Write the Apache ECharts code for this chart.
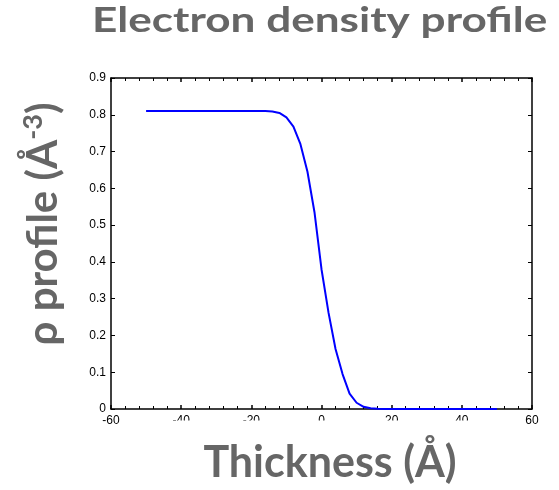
<!DOCTYPE html>
<html>
<head>
<meta charset="utf-8">
<script src="https://cdn.jsdelivr.net/npm/echarts@6/dist/echarts.min.js"></script>
<style>
  html, body { margin: 0; padding: 0; background: #fff; }
  #chart { width: 559px; height: 490px; }
</style>
</head>
<body>
<div id="chart"></div>
<script>
// Electron density profile across the interface (thickness in Å, density in Å^-3)
const thickness = [
  -50, -48, -46, -44, -42, -40, -38, -36, -34, -32, -30, -28, -26, -24, -22, -20, -18, -16,
  -14, -12, -10, -8, -6, -4, -2, 0, 2, 4, 6, 8, 10, 12, 14, 16, 18, 20,
  22, 24, 26, 28, 30, 32, 34, 36, 38, 40, 42, 44, 46, 48, 50
];
const density = [
  0.81, 0.81, 0.81, 0.81, 0.81, 0.81, 0.81, 0.81, 0.81, 0.81, 0.81, 0.81, 0.81, 0.81, 0.81, 0.81, 0.81, 0.81,
  0.809, 0.805, 0.793, 0.768, 0.72, 0.645, 0.535, 0.38, 0.262, 0.163, 0.095, 0.042, 0.017, 0.006, 0.002, 0.0005, 0, 0,
  0, 0, 0, 0, 0, 0, 0, 0, 0, 0, 0, 0, 0, 0, 0
];
const xTicks = [-60, -40, -20, 0, 20, 40, 60];
const yTicks = [0, 0.1, 0.2, 0.3, 0.4, 0.5, 0.6, 0.7, 0.8, 0.9];

const chart = echarts.init(document.getElementById('chart'));
const tickFont = { fontFamily: 'Liberation Sans, Arial, sans-serif', fontSize: 12, color: '#000' };
const axisLine = { show: true, onZero: false, lineStyle: { color: '#000', width: 1.5 } };
const labelGray = '#666666';
const bigFont = 'Lato, "Open Sans", sans-serif';

chart.setOption({
  animation: false,
  backgroundColor: '#fff',
  grid: { left: 111, right: 27, top: 78, bottom: 81 },
  xAxis: [
    {
      type: 'value', min: xTicks[0], max: xTicks[xTicks.length - 1], interval: 20,
      axisLine: axisLine,
      axisTick: { inside: true, length: 4, lineStyle: { color: '#000', width: 1.5 } },
      minorTick: { show: true, splitNumber: 5, length: 3, lineStyle: { color: '#000', width: 1 } },
      splitLine: { show: false },
      axisLabel: Object.assign({ margin: 6 }, tickFont)
    },
    {
      type: 'value', position: 'top', min: xTicks[0], max: xTicks[xTicks.length - 1], interval: 20,
      axisLine: axisLine,
      axisTick: { inside: true, length: 4, lineStyle: { color: '#000', width: 1.5 } },
      minorTick: { show: true, splitNumber: 5, length: 3, lineStyle: { color: '#000', width: 1 } },
      splitLine: { show: false },
      axisLabel: { show: false }
    }
  ],
  yAxis: [
    {
      type: 'value', min: yTicks[0], max: yTicks[yTicks.length - 1], interval: 0.1,
      axisLine: axisLine,
      axisTick: { inside: true, length: 4, lineStyle: { color: '#000', width: 1 } },
      splitLine: { show: false },
      axisLabel: Object.assign({ margin: 5, formatter: v => (Math.round(v * 10) / 10).toString() }, tickFont)
    },
    {
      type: 'value', position: 'right', min: yTicks[0], max: yTicks[yTicks.length - 1], interval: 0.1,
      axisLine: axisLine,
      axisTick: { inside: true, length: 4, lineStyle: { color: '#000', width: 1 } },
      splitLine: { show: false },
      axisLabel: { show: false }
    }
  ],
  series: [{
    type: 'line',
    data: thickness.map((t, i) => [t, density[i]]),
    showSymbol: false,
    lineStyle: { color: '#0000ff', width: 2 },
    z: 3
  }],
  graphic: [
    // chart title, set in a horizontally widened text box
    {
      type: 'text', x: 92, y: 3, scaleX: 1.26, z: 10,
      style: {
        text: 'Electron density profile', fill: labelGray,
        font: 'bold 35px ' + bigFont, textAlign: 'left', textVerticalAlign: 'top'
      }
    },
    // lower part of the inner x tick labels is hidden by the caption box
    {
      type: 'rect', z: 9,
      shape: { x: 140, y: 420.5, width: 365, height: 14 },
      style: { fill: '#fff' }
    },
    {
      type: 'text', x: 330, y: 442, z: 10,
      style: {
        text: 'Thickness (Å)', fill: labelGray,
        font: 'bold 43px ' + bigFont, textAlign: 'center', textVerticalAlign: 'top'
      }
    },
    {
      type: 'text', x: 43, y: 224, rotation: Math.PI / 2, z: 10,
      style: {
        text: '{b|ρ profile (Å}{s|-3}{b|)}',
        textAlign: 'center', textVerticalAlign: 'middle',
        rich: {
          b: { fontFamily: bigFont, fontWeight: 'bold', fontSize: 42, fill: labelGray },
          s: { fontFamily: bigFont, fontWeight: 'bold', fontSize: 27, fill: labelGray, verticalAlign: 'top', padding: [0, 0, 20, 0] }
        }
      }
    }
  ]
});
</script>
</body>
</html>
